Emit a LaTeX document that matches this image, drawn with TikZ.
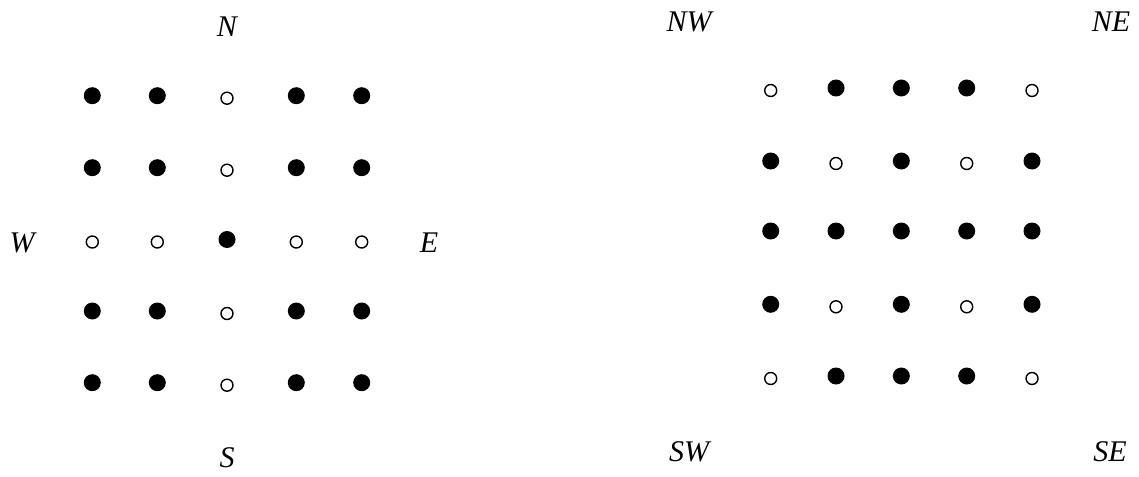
\documentclass[tikz,border=0pt]{standalone}
\usepackage{fontspec}
\setmainfont{Liberation Serif}
\begin{document}
\begin{tikzpicture}[x=1pt,y=-1pt,
  F/.style={circle,fill=black,inner sep=0pt,minimum size=17pt},
  O/.style={circle,draw=black,line width=1.4pt,fill=white,inner sep=0pt,minimum size=12pt,yshift=-2.5pt},
  lab/.style={anchor=base,inner sep=0pt,font=\fontsize{30}{36}\selectfont\itshape}]
\useasboundingbox (0,0) rectangle (1139,476);
% left grid
\foreach \r/\y/\a/\b/\cc/\d/\e in {1/95.7/F/F/O/F/F,2/167.7/F/F/O/F/F,3/239.5/O/O/F/O/O,4/311/F/F/O/F/F,5/382.7/F/F/O/F/F}{
  \node[\a] (L\r1) at (92.3,\y) {};
  \node[\b] (L\r2) at (157.3,\y) {};
  \node[\cc] (L\r3) at (227,\y) {};
  \node[\d] (L\r4) at (296.3,\y) {};
  \node[\e] (L\r5) at (361.7,\y) {};
}
% right grid
\foreach \r/\y/\a/\b/\cc/\d/\e in {1/88/O/F/F/F/O,2/161/F/O/F/O/F,3/231/F/F/F/F/F,4/304.3/F/O/F/O/F,5/376/O/F/F/F/O}{
  \node[\a] (R\r1) at (770.7,\y) {};
  \node[\b] (R\r2) at (836,\y) {};
  \node[\cc] (R\r3) at (901.3,\y) {};
  \node[\d] (R\r4) at (966.7,\y) {};
  \node[\e] (R\r5) at (1032,\y) {};
}
% labels
\node[lab] (N) at (227,37) {N};
\node[lab] (S) at (227,467.7) {S};
\node[lab] (W) at (22,252.7) {W};
\node[lab] (E) at (429,252.7) {E};
\node[lab] (NW) at (689,31.7) {NW};
\node[lab] (NE) at (1111,31.7) {NE};
\node[lab] (SW) at (689,461.7) {SW};
\node[lab] (SE) at (1110,461.7) {SE};
\end{tikzpicture}
\end{document}
